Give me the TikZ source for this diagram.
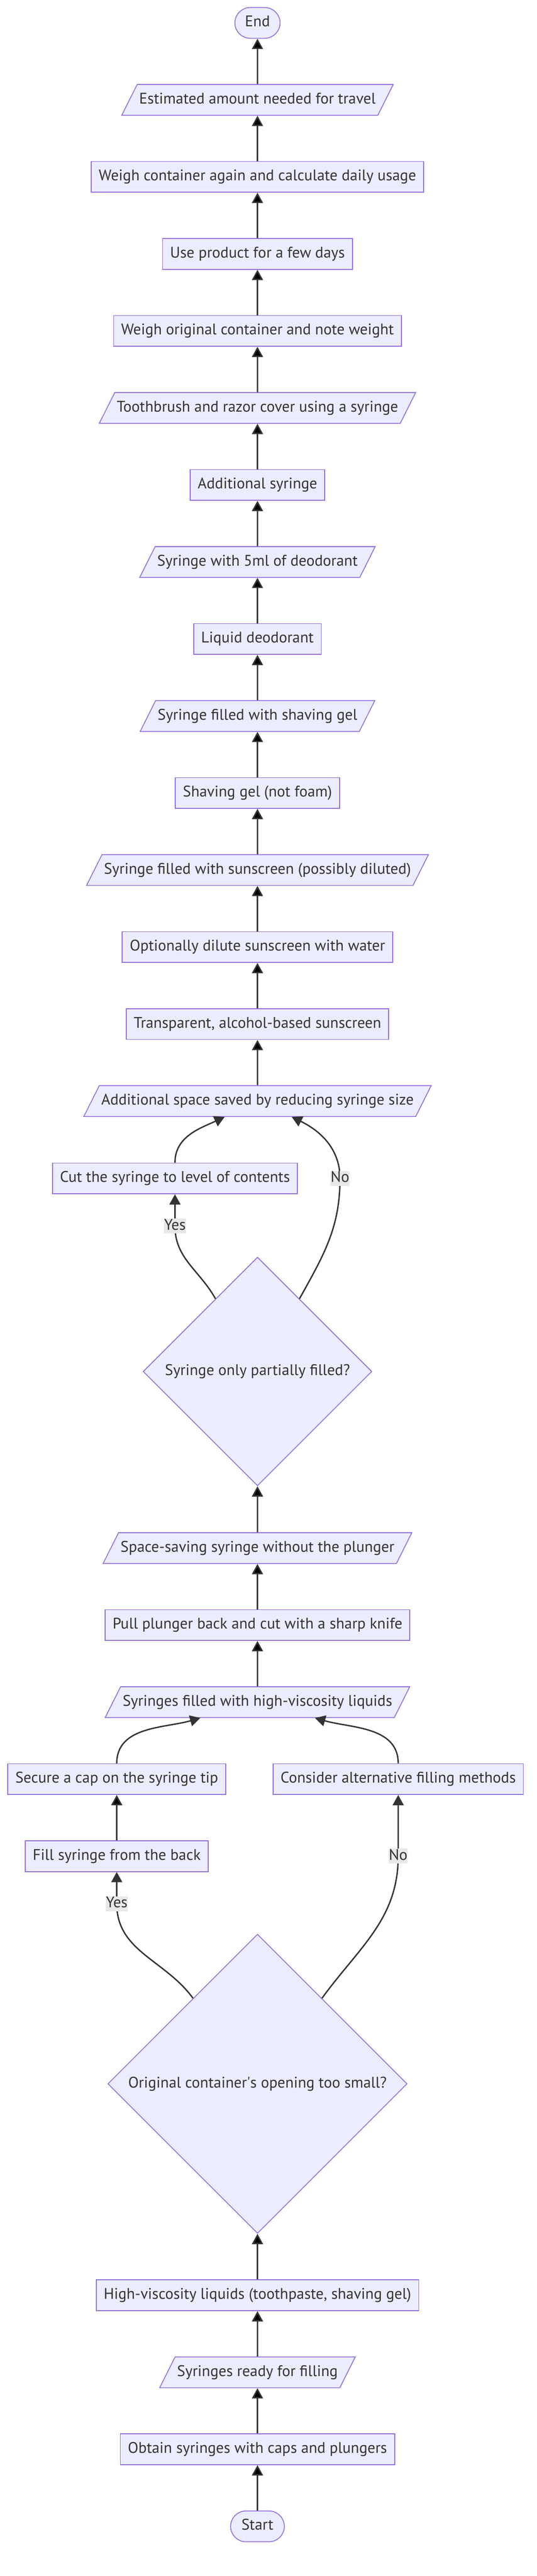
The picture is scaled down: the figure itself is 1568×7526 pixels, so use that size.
\documentclass[tikz,border=0pt]{standalone}
\usepackage{fontspec}
\setmainfont{PT Sans}
\usepackage{xcolor}
\usepackage{tikz}
\usetikzlibrary{positioning}
\usetikzlibrary{arrows.meta}
\usetikzlibrary{shapes.geometric}
\definecolor{boxfill}{HTML}{ECECFF}
\definecolor{boxline}{HTML}{9370DB}
\definecolor{inkgray}{HTML}{333333}
\definecolor{tagfill}{HTML}{E8E8E8}
\tikzset{edge/.style = {-{Triangle[length=30pt,width=32pt]}, line width=4pt, draw=inkgray}}

\begin{document}
\begin{tikzpicture}[x=1pt, y=1pt, node distance=225pt,
    every node/.style={font=\fontsize{45pt}{52pt}\selectfont, text=inkgray},
    proc/.style={rectangle, draw=boxline, fill=boxfill, line width=2.5pt, inner xsep=22pt, inner ysep=24pt, text height=32pt, text depth=10pt},
    io/.style={proc, trapezium, trapezium left angle=63.4, trapezium right angle=116.6, inner xsep=6pt},
    choice/.style={diamond, aspect=1, draw=boxline, fill=boxfill, line width=2.5pt, inner sep=0pt},
    term/.style={proc, rounded corners=45pt, inner xsep=0pt},
    tag/.style={fill=tagfill, inner xsep=1pt, inner ysep=1pt, text height=32pt, text depth=10pt}]
    \useasboundingbox (0,0) rectangle (1568,7526);

    \node[term, minimum width=157pt] (start) at (752,145) {Start};
    \node[proc] (obtain) [above of=start] {Obtain syringes with caps and plungers};
    \node[io] (ready) [above of=obtain] {Syringes ready for filling};
    \node[proc] (viscous) [above of=ready] {High-viscosity liquids (toothpaste, shaving gel)};
    \node[choice, minimum size=874pt] (opening) [above of=viscous, node distance=618pt] {Original container\textquotesingle s opening too small?};
    \node[proc] (fillback) [above of=opening, node distance=665pt, xshift=-411pt] {Fill syringe from the back};
    \node[proc] (capon) [above of=fillback] {Secure a cap on the syringe tip};
    \node[proc] (altfill) [above of=opening, node distance=890pt, xshift=411pt] {Consider alternative filling methods};
    \node[io] (viscfilled) [above of=opening, node distance=1115pt] {Syringes filled with high-viscosity liquids};
    \node[proc] (pull) [above of=viscfilled] {Pull plunger back and cut with a sharp knife};
    \node[io] (noplunger) [above of=pull] {Space-saving syringe without the plunger};
    \node[choice, minimum size=668pt] (partial) [above of=noplunger, node distance=516pt] {Syringe only partially filled?};
    \node[proc] (cut) [above of=partial, node distance=564pt, xshift=-241pt] {Cut the syringe to level of contents};
    \node[io] (saved) [above of=partial, node distance=790pt] {Additional space saved by reducing syringe size};
    \node[proc] (sunscreen) [above of=saved] {Transparent, alcohol-based sunscreen};
    \node[proc] (dilute) [above of=sunscreen] {Optionally dilute sunscreen with water};
    \node[io] (sunsyringe) [above of=dilute] {Syringe filled with sunscreen (possibly diluted)};
    \node[proc] (gel) [above of=sunsyringe] {Shaving gel (not foam)};
    \node[io] (gelsyringe) [above of=gel] {Syringe filled with shaving gel};
    \node[proc] (deo) [above of=gelsyringe] {Liquid deodorant};
    \node[io] (deosyringe) [above of=deo] {Syringe with 5ml of deodorant};
    \node[proc] (extra) [above of=deosyringe] {Additional syringe};
    \node[io] (cover) [above of=extra] {Toothbrush and razor cover using a syringe};
    \node[proc] (weighfirst) [above of=cover] {Weigh original container and note weight};
    \node[proc] (usedays) [above of=weighfirst] {Use product for a few days};
    \node[proc] (weighagain) [above of=usedays] {Weigh container again and calculate daily usage};
    \node[io] (travel) [above of=weighagain] {Estimated amount needed for travel};
    \node[term, minimum width=132pt] (end) [above of=travel] {End};

    \path[edge] (start) edge (obtain);
    \path[edge] (obtain) edge (ready);
    \path[edge] (ready) edge (viscous);
    \path[edge] (viscous) edge (opening);
    \path[edge] (fillback) edge (capon);
    \path[edge] (viscfilled) edge (pull);
    \path[edge] (pull) edge (noplunger);
    \path[edge] (noplunger) edge (partial);
    \path[edge] (saved) edge (sunscreen);
    \path[edge] (sunscreen) edge (dilute);
    \path[edge] (dilute) edge (sunsyringe);
    \path[edge] (sunsyringe) edge (gel);
    \path[edge] (gel) edge (gelsyringe);
    \path[edge] (gelsyringe) edge (deo);
    \path[edge] (deo) edge (deosyringe);
    \path[edge] (deosyringe) edge (extra);
    \path[edge] (extra) edge (cover);
    \path[edge] (cover) edge (weighfirst);
    \path[edge] (weighfirst) edge (usedays);
    \path[edge] (usedays) edge (weighagain);
    \path[edge] (weighagain) edge (travel);
    \path[edge] (travel) edge (end);

    % opening too small?
    \draw[edge] (opening.127) to[out=126,in=-90] ([yshift=-93pt]fillback.south) node[tag] {Yes} -- (fillback.south);
    \draw[edge] (opening.53) to[out=54,in=-90] (altfill |- fillback) node[tag] {No} -- (altfill.south);
    \draw[edge] (capon.north) to[out=90,in=-164] ([xshift=-167pt]viscfilled.south);
    \draw[edge] (altfill.north) to[out=90,in=-16] ([xshift=168pt]viscfilled.south);

    % partially filled?
    \path (partial.center |- cut.center) ++(241,0) coordinate (nobend);
    \draw[edge] (partial.120) to[out=119,in=-90] ([yshift=-93pt]cut.south) node[tag] {Yes} -- (cut.south);
    \draw[edge] (partial.60) to[out=61,in=-90] (nobend) node[tag] {No} to[out=90,in=-26] ([xshift=100pt]saved.south);
    \draw[edge] (cut.north) to[out=90,in=-155] ([xshift=-96pt]saved.south);
\end{tikzpicture}
\end{document}
